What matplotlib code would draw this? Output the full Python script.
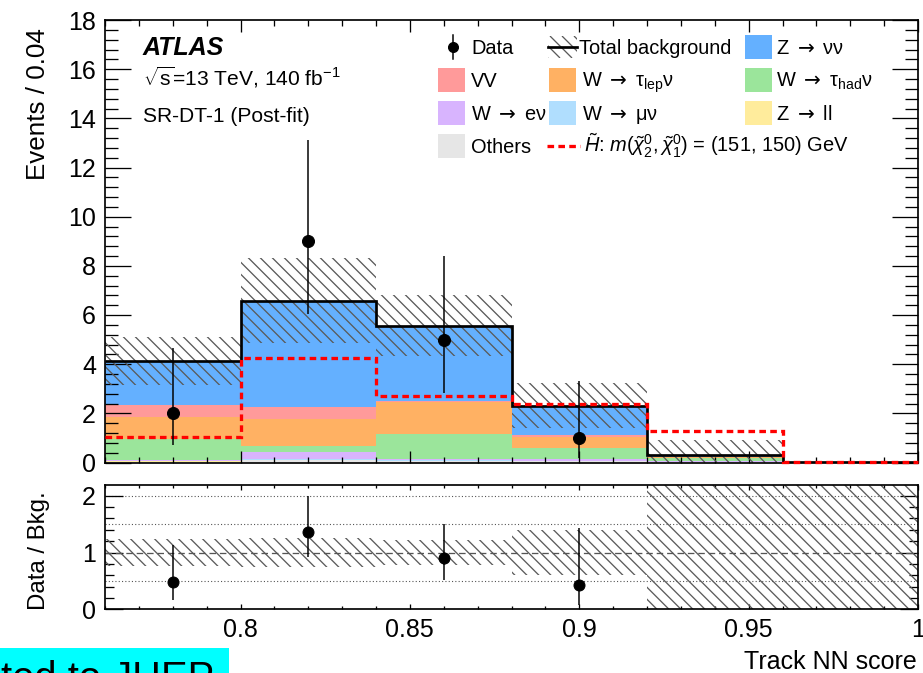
import numpy as np
import matplotlib
matplotlib.use("Agg")
import matplotlib.pyplot as plt
from matplotlib.patches import Rectangle
from matplotlib.lines import Line2D
from matplotlib.collections import LineCollection
from matplotlib.transforms import IdentityTransform
from matplotlib.ticker import MultipleLocator, FuncFormatter

plt.rcParams['font.family'] = ['Liberation Sans', 'DejaVu Sans']
plt.rcParams['mathtext.fontset'] = 'custom'
plt.rcParams['mathtext.rm'] = 'Liberation Sans'
plt.rcParams['mathtext.it'] = 'Liberation Sans:italic'
plt.rcParams['mathtext.bf'] = 'Liberation Sans:bold'
plt.rcParams['mathtext.sf'] = 'DejaVu Sans'

# ---------------- data ----------------
bin_edges = [0.76, 0.80, 0.84, 0.88, 0.92, 0.96, 1.00]
data = [2, 9, 5, 1]
data_err_lo = [1.29, 2.94, 2.16, 0.83]
data_err_hi = [2.64, 4.11, 3.38, 2.30]

# background stack, bottom to top
others   = [0.04, 0.10, 0.06, 0.05, 0.02, 0.00]
z_ll     = [0.01, 0.01, 0.01, 0.01, 0.00, 0.00]
w_munu   = [0.01, 0.02, 0.02, 0.02, 0.01, 0.00]
w_enu    = [0.06, 0.28, 0.04, 0.05, 0.02, 0.00]
w_tauhad = [0.84, 0.26, 1.02, 0.47, 0.15, 0.00]
w_taulep = [0.88, 1.10, 1.31, 0.45, 0.03, 0.00]
vv       = [0.49, 0.50, 0.05, 0.07, 0.01, 0.00]
z_nunu   = [1.79, 4.31, 3.06, 1.19, 0.08, 0.01]
bkg_err  = [0.97, 1.73, 1.24, 0.91, 0.60, 0.02]
signal   = [1.03, 4.24, 2.71, 2.37, 1.28, 0.03]

C_ZNUNU = '#64b0ff'
C_VV = '#ff9a9a'
C_TLEP = '#ffb163'
C_THAD = '#9be59b'
C_ENU = '#d8b4fe'
C_MUNU = '#b0defe'
C_ZLL = '#ffec9c'
C_OTH = '#e6e6e6'
HATCH_C = '#5a5a5a'
HATCH_SP = 12.0   # px between hatch lines (horizontal)
HATCH_LW = 1.3

stack = [(others, C_OTH), (z_ll, C_ZLL), (w_munu, C_MUNU), (w_enu, C_ENU),
         (w_tauhad, C_THAD), (w_taulep, C_TLEP), (vv, C_VV), (z_nunu, C_ZNUNU)]

W, H = 923, 673
fig = plt.figure(figsize=(W / 72, H / 72), dpi=72)


def fx(x):
    return x / W


def fy(y):
    return 1 - y / H


def hatch_lines(x0, y0, x1, y1):
    """diagonal '\\' segments covering a display-space box"""
    h = y1 - y0
    segs = []
    for c in np.arange(x0 - h - HATCH_SP, x1 + HATCH_SP, HATCH_SP):
        segs.append([(c, y1), (c + h, y0)])
    return segs


def add_hatch(container, patch, bbox_ext, zorder=2):
    lc = LineCollection(hatch_lines(*bbox_ext), colors=HATCH_C, linewidths=HATCH_LW,
                        transform=IdentityTransform(), zorder=zorder)
    lc.set_clip_path(patch)
    if hasattr(container, 'add_collection'):
        container.add_collection(lc, autolim=False)
    else:
        container.add_artist(lc)
    return lc


L, R = 105, 918
ax = fig.add_axes([fx(L), fy(462.5), (R - L) / W, (462.5 - 20) / H])
rax = fig.add_axes([fx(L), fy(609.3), (R - L) / W, (609.3 - 485) / H])

edges = np.array(bin_edges)
centers = 0.5 * (edges[:-1] + edges[1:])
base = np.zeros(len(edges) - 1)
for vals, col in stack:
    v = np.array(vals, dtype=float)
    ax.stairs(base + v, edges, baseline=base.copy(), fill=True,
              facecolor=col, edgecolor='none', linewidth=0, zorder=1)
    base = base + v
total = base
err = np.array(bkg_err)

ax.set_xlim(edges[0], edges[-1])
ax.set_ylim(0, 18)
rax.set_xlim(edges[0], edges[-1])
rax.set_ylim(0, 2.19)

band = ax.stairs(np.clip(total + err, 0, 18), edges, baseline=np.clip(total - err, 0, None),
                 fill=True, facecolor='none', edgecolor='none', linewidth=0, zorder=2)
add_hatch(ax, band, ax.bbox.extents)
ax.stairs(total, edges, baseline=None, color='black', linewidth=2.7, zorder=3)
sig = ax.stairs(np.array(signal), edges, baseline=None, color='red', linewidth=3.3,
                linestyle=(0, (2, 1.3)), zorder=7)
sig.set_clip_on(False)
nd = len(data)
ax.errorbar(centers[:nd], data, yerr=[data_err_lo, data_err_hi], fmt='o',
            color='black', ms=12, elinewidth=1.5, capsize=0, zorder=8)

# ratio
d = np.array(data, dtype=float)
ratio = d / total[:nd]
r_lo = np.array(data_err_lo) / total[:nd]
r_hi = np.array(data_err_hi) / total[:nd]
rel = err / total
rtop = rax.get_ylim()[1]
rband = rax.stairs(np.clip(1 + rel, 0, rtop), edges, baseline=np.clip(1 - rel, 0, rtop),
                   fill=True, facecolor='none', edgecolor='none', linewidth=0, zorder=2)
add_hatch(rax, rband, rax.bbox.extents)
for yv in (0.5, 1.5, 2.0):
    rax.axhline(yv, color='#555555', linewidth=1.1, linestyle=(0, (1, 2)), zorder=1)
rax.axhline(1.0, color='#555555', linewidth=1.3, linestyle=(0, (5, 3)), zorder=3)
rax.errorbar(centers[:nd], ratio, yerr=[r_lo, r_hi], fmt='o', color='black',
             ms=11, elinewidth=1.5, capsize=0, zorder=5)

fmt = FuncFormatter(lambda v, p: '%g' % round(v, 6))
for a in (ax, rax):
    a.xaxis.set_major_locator(MultipleLocator(0.05))
    a.xaxis.set_minor_locator(MultipleLocator(0.01))
    a.xaxis.set_major_formatter(fmt)
    a.yaxis.set_major_formatter(fmt)
    a.tick_params(which='both', direction='in', top=True, right=True,
                  width=1.3, labelsize=25, colors='black')
    for s in a.spines.values():
        s.set_linewidth(1.7)
        s.set_zorder(6)
ax.yaxis.set_major_locator(MultipleLocator(2))
ax.yaxis.set_minor_locator(MultipleLocator(0.4))
ax.tick_params(axis='y', which='major', length=26, pad=9)
ax.tick_params(axis='y', which='minor', length=13)
ax.tick_params(axis='x', which='major', length=12)
ax.tick_params(axis='x', which='minor', length=6)
ax.tick_params(labelbottom=False)
rax.yaxis.set_major_locator(MultipleLocator(1))
rax.yaxis.set_minor_locator(MultipleLocator(0.2))
rax.tick_params(axis='y', which='major', length=18, pad=9)
rax.tick_params(axis='y', which='minor', length=9)
rax.tick_params(axis='x', which='major', length=5, pad=9)
rax.tick_params(axis='x', which='minor', length=3)

# axis titles
fig.text(fx(38), fy(28), 'Events / 0.04', rotation=90, ha='center', va='top', size=26)
fig.text(fx(39), fy(551), 'Data / Bkg.', rotation=90, ha='center', va='center', size=24)
fig.text(fx(917), fy(669), 'Track NN score', ha='right', va='baseline', size=25)

# ATLAS labels
fig.text(fx(143), fy(55), 'ATLAS', weight='bold', style='italic', size=25, va='baseline')
fig.text(fx(143), fy(86), r'$\sqrt{\mathrm{s}}$=13 TeV, 140 fb$^{\mathrm{-1}}$', size=21, va='baseline')
fig.text(fx(143), fy(122), 'SR-DT-1 (Post-fit)', size=21, va='baseline')

# legend
LS = 20
rows = [47, 80, 113, 146]
ARR = r'$\mathsf{\rightarrow}$'


def box(x0, yc, col):
    r = Rectangle((fx(x0), fy(yc + 12)), 27 / W, 24 / H, transform=fig.transFigure,
                  facecolor=col, edgecolor='none', linewidth=0)
    fig.add_artist(r)


def label(x0, yc, s):
    fig.text(fx(x0), fy(yc + 7), s, size=LS, va='baseline', ha='left')


# Data
fig.add_artist(Line2D([fx(452.7)] * 2, [fy(rows[0] - 12), fy(rows[0] + 12)],
                      transform=fig.transFigure, color='black', lw=1.5))
fig.add_artist(Line2D([fx(452.7)], [fy(rows[0])], transform=fig.transFigure,
                      marker='o', ms=10, color='black', lw=0))
label(471, rows[0], 'Data')
# total background
tb = Rectangle((fx(548), fy(rows[0] + 11)), 29 / W, 22 / H, transform=fig.transFigure,
               facecolor='none', edgecolor='none', linewidth=0)
fig.add_artist(tb)
add_hatch(fig, tb, (548, H - (rows[0] + 11), 577, H - (rows[0] - 11)))
fig.add_artist(Line2D([fx(548), fx(577)], [fy(rows[0])] * 2, transform=fig.transFigure,
                      color='black', lw=2.7))
label(579, rows[0], 'Total background')
box(745, rows[0], C_ZNUNU)
label(776, rows[0], 'Z ' + ARR + ' νν')

box(438, rows[1], C_VV)
label(471, rows[1], 'VV')
box(549, rows[1], C_TLEP)
label(582, rows[1], 'W ' + ARR + r' τ$_{\mathrm{lep}}$ν')
box(745, rows[1], C_THAD)
label(776, rows[1], 'W ' + ARR + r' τ$_{\mathrm{had}}$ν')

box(438, rows[2], C_ENU)
label(471, rows[2], 'W ' + ARR + ' eν')
box(549, rows[2], C_MUNU)
label(582, rows[2], 'W ' + ARR + ' μν')
box(745, rows[2], C_ZLL)
label(776, rows[2], 'Z ' + ARR + ' ll')

box(438, rows[3], C_OTH)
label(471, rows[3], 'Others')
fig.add_artist(Line2D([fx(547), fx(580)], [fy(rows[3])] * 2, transform=fig.transFigure,
                      color='red', lw=3.3, linestyle=(0, (2, 1.3))))
label(584, rows[3], r'$\tilde{H}$: $m(\tilde{\chi}^{0}_{2}, \tilde{\chi}^{0}_{1})$ = (151, 150) GeV')

# clipped watermark
fig.add_artist(Rectangle((0, 0), fx(229), (H - 648) / H, transform=fig.transFigure,
                         facecolor='#00ffff', edgecolor='none'))
fig.text(fx(1), fy(690), 'ted to JHEP', size=40, va='baseline', ha='left')

fig.savefig('out.png', dpi=72)
